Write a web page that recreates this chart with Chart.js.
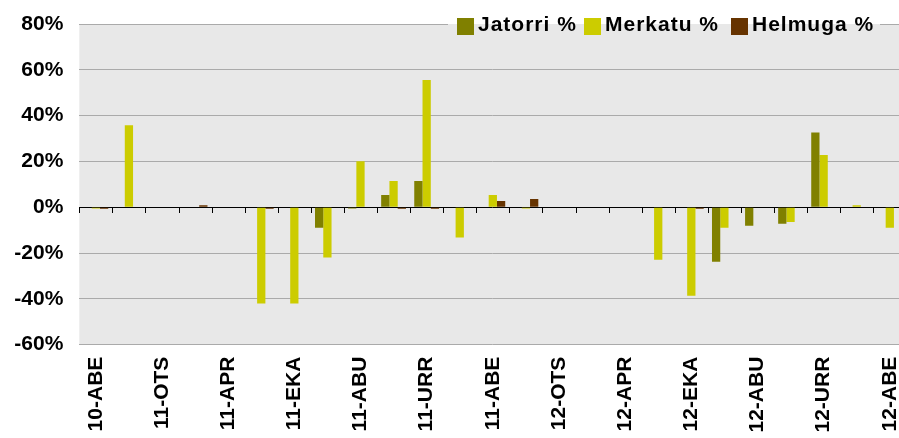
<!DOCTYPE html>
<html>
<head>
<meta charset="utf-8">
<script src="https://cdn.jsdelivr.net/npm/chart.js@4/dist/chart.umd.min.js"></script>
<style>
  html, body { margin: 0; padding: 0; background: #fff; overflow: hidden; }
  #wrap { position: relative; width: 899px; height: 438px; overflow: hidden; }
  canvas { position: absolute; left: 0; top: 0; }
  .lg { position: absolute; top: 13px; height: 21px; font: bold 21px "Liberation Sans", Arial, sans-serif; letter-spacing: 1px; line-height: 21px; color: #000; white-space: nowrap; }
  .lg i { position: absolute; left: 0; top: 5px; width: 17px; height: 17px; }
  .lg span { position: absolute; left: 21px; top: 0; }
</style>
</head>
<body>
<div id="wrap">
  <canvas id="c" width="927" height="438"></canvas>
  <div id="legend"></div>
</div>
<script>
// monthly change, Dec 2010 .. Dec 2012
const months = ['10-ABE',
  '11-URT', '11-OTS', '11-MAR', '11-APR', '11-MAI', '11-EKA', '11-UZT', '11-ABU', '11-IRA', '11-URR', '11-AZA', '11-ABE',
  '12-URT', '12-OTS', '12-MAR', '12-APR', '12-MAI', '12-EKA', '12-UZT', '12-ABU', '12-IRA', '12-URR', '12-AZA', '12-ABE'];

const jatorri = [0, 0, 0, 0, 0, 0, 0, -9.0, -0.5, 5.4, 11.5, 0, 0,
  0, 0, 0, 0, 0, 0, -23.8, -8.1, -7.2, 32.6, 0, 0];
const merkatu = [-0.5, 35.8, 0, 0, 0, -42.0, -42.0, -21.9, 20.1, 11.5, 55.6, -13.2, 5.4,
  -0.5, 0, 0, 0, -22.9, -38.6, -9.0, 0, -6.4, 22.8, 0.9, -9.0];
const helmuga = [-0.7, 0, 0, 0.9, 0, -0.7, 0, 0, 0, -0.7, -0.7, 0, 2.7,
  3.6, 0, 0, 0, 0, -0.7, 0, 0, 0, 0, 0, 0];

const seriesNames = ['Jatorri %', 'Merkatu %', 'Helmuga %'];
const seriesColors = ['#808000', '#cccc00', '#663300'];
const yTicks = [-60, -40, -20, 0, 20, 40, 60, 80];

const FONT = '"Liberation Sans", Arial, sans-serif';
const PLOT_BG = '#e8e8e8';

/* legend (html, sits on the top edge of the plot) */
const legendLeft = [457, 584, 731];
const lg = document.getElementById('legend');
seriesNames.forEach((name, i) => {
  const d = document.createElement('div');
  d.className = 'lg';
  d.style.left = legendLeft[i] + 'px';
  d.innerHTML = `<i style="background:${seriesColors[i]}"></i><span>${name}</span>`;
  lg.appendChild(d);
});

/* plot background, category tick marks on the zero line, gap in top gridline behind legend */
const plotBg = {
  id: 'plotBg',
  beforeDraw(chart) {
    const { ctx, chartArea: a } = chart;
    ctx.save();
    ctx.fillStyle = PLOT_BG;
    ctx.fillRect(a.left, a.top, a.right - a.left, a.bottom - a.top);
    ctx.restore();
  },
  afterDraw(chart) {
    const { ctx, chartArea: a, scales } = chart;
    const x = scales.x;
    const y0 = Math.round(scales.y.getPixelForValue(0));
    const step = x.getPixelForValue(1) - x.getPixelForValue(0);
    ctx.save();
    ctx.strokeStyle = '#000';
    ctx.lineWidth = 1;
    ctx.beginPath();
    for (let i = 0; i <= months.length; i += 1) {
      const px = Math.round(x.getPixelForValue(0) - step / 2 + i * step) + 0.5;
      ctx.moveTo(px, y0);
      ctx.lineTo(px, y0 + 6);
    }
    ctx.stroke();
    ctx.fillStyle = '#fff';
    ctx.fillRect(448, a.top - 2, 432, 2);
    ctx.fillStyle = PLOT_BG;
    ctx.fillRect(448, a.top, 432, 2);
    ctx.restore();
  }
};

new Chart(document.getElementById('c'), {
  type: 'bar',
  data: {
    labels: months,
    datasets: [jatorri, merkatu, helmuga].map((d, i) => ({
      label: seriesNames[i],
      data: d,
      backgroundColor: seriesColors[i],
      borderWidth: 0,
      categoryPercentage: 0.75,
      barPercentage: 1.0
    }))
  },
  options: {
    responsive: false,
    animation: false,
    devicePixelRatio: 1,
    layout: { padding: { top: 24, left: 0, right: 0, bottom: 0 } },
    plugins: { legend: { display: false }, tooltip: { enabled: false } },
    scales: {
      x: {
        offset: true,
        grid: { display: false, drawTicks: false },
        border: { display: false },
        afterFit: (s) => { s.height = 93.3; },
        ticks: {
          autoSkip: false,
          maxRotation: 90,
          minRotation: 90,
          padding: 12,
          color: '#000',
          font: { family: FONT, size: 21, weight: 'bold' },
          callback: (v, i) => (i % 2 === 0 ? months[i] : '')
        }
      },
      y: {
        min: -60,
        max: 80,
        afterBuildTicks: (s) => { s.ticks = yTicks.map(v => ({ value: v })); },
        afterFit: (s) => { s.width = 79.3; s.paddingTop = 0; s.paddingBottom = 0; },
        grid: {
          color: (c) => (c.tick && c.tick.value === 0 ? '#000' : '#aaaaaa'),
          lineWidth: 1,
          drawTicks: false
        },
        border: { display: false },
        ticks: {
          padding: 16,
          color: '#000',
          font: { family: FONT, size: 21, weight: 'bold' },
          callback: (v) => v + '%'
        }
      }
    }
  },
  plugins: [plotBg]
});
</script>
</body>
</html>
